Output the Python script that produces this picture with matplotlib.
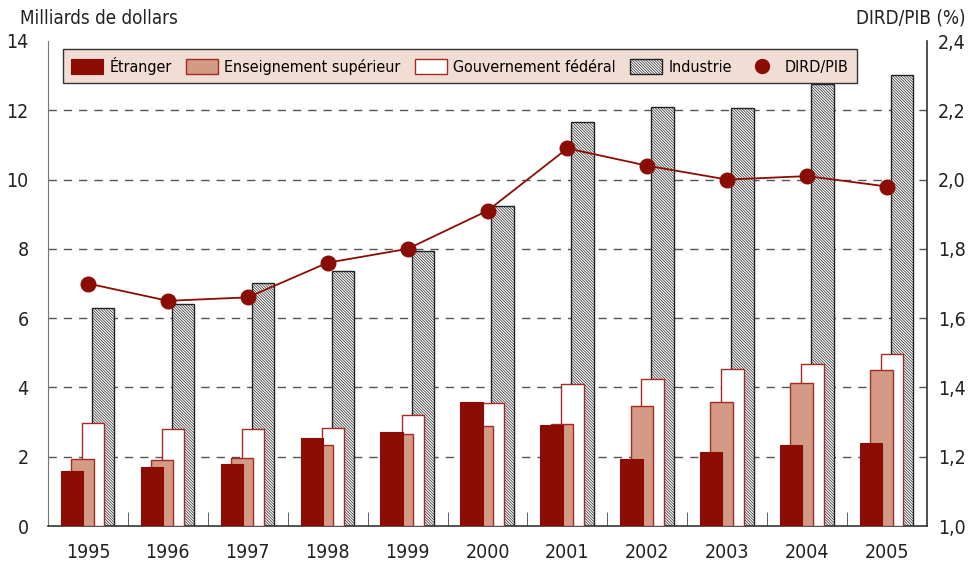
import matplotlib
matplotlib.use("Agg")
import matplotlib.pyplot as plt
from matplotlib.lines import Line2D
import numpy as np

plt.rcParams['font.family'] = ['DejaVu Sans']
plt.rcParams['font.stretch'] = 'condensed'
plt.rcParams['hatch.linewidth'] = 0.5

years = ['1995', '1996', '1997', '1998', '1999', '2000', '2001', '2002', '2003', '2004', '2005']
etranger = [1.60, 1.71, 1.80, 2.55, 2.70, 3.59, 2.92, 1.93, 2.13, 2.34, 2.39]
enseignement = [1.93, 1.90, 1.96, 2.34, 2.65, 2.89, 2.94, 3.46, 3.59, 4.12, 4.49]
gouvernement = [2.98, 2.81, 2.81, 2.82, 3.21, 3.55, 4.09, 4.25, 4.53, 4.67, 4.97]
industrie = [6.28, 6.40, 7.02, 7.35, 7.94, 9.24, 11.65, 12.09, 12.06, 12.75, 13.01]
dird_pib = [1.70, 1.65, 1.66, 1.76, 1.80, 1.91, 2.09, 2.04, 2.00, 2.01, 1.98]

dark = '#8B0C02'
salmon = '#D39A85'
edge_red = '#A42A22'

fig = plt.figure(figsize=(9.72, 5.63), dpi=100)
ax = fig.add_axes([48/972, 1-526/563, (927-48)/972, 485/563])
x = np.arange(len(years))
w = 0.28

b_ind = ax.bar(x + 0.19, industrie, w, color='white', edgecolor='#222222', hatch='\\' * 12,
               linewidth=1.0, zorder=2, label='Industrie')
b_gov = ax.bar(x + 0.065, gouvernement, w, color='white', edgecolor=edge_red, linewidth=1.0,
               zorder=3, label='Gouvernement fédéral')
b_ens = ax.bar(x - 0.07, enseignement, w, color=salmon, edgecolor=edge_red, linewidth=1.0,
               zorder=4, label='Enseignement supérieur')
b_etr = ax.bar(x - 0.20, etranger, w, color=dark, edgecolor=dark, linewidth=0.8,
               zorder=5, label='Étranger')

ax.set_xlim(-0.5, len(years) - 0.5)
ax.set_ylim(0, 14)
ax.set_yticks(np.arange(0, 15, 2))
ax.set_xticks(x)
ax.set_xticklabels(years)
ax.set_xticks(x[:-1] + 0.5, minor=True)
ax.tick_params(axis='x', which='major', length=0, pad=12, labelsize=14, colors='#222222')
ax.tick_params(axis='x', which='minor', length=10, direction='in', color='#444444')
ax.tick_params(axis='y', length=0, pad=14, labelsize=14, colors='#222222')
for yv in range(2, 14, 2):
    ax.axhline(yv, color='#555555', linestyle=(0, (6, 5)), linewidth=1.0, zorder=1)
ax.spines['top'].set_visible(False)
ax.spines['right'].set_visible(False)
ax.spines['left'].set_color('#777777')
ax.spines['bottom'].set_color('#333333')
ax.spines['bottom'].set_linewidth(1.2)

ax2 = ax.twinx()
ax2.plot(x, dird_pib, color=dark, linewidth=1.3, marker='o', markersize=10.5, zorder=10)
ax2.set_ylim(1.0, 2.4)
ax2.set_yticks(np.arange(1.0, 2.41, 0.2))
ax2.set_yticklabels([f'{v:.1f}'.replace('.', ',') for v in np.arange(1.0, 2.41, 0.2)])
ax2.tick_params(axis='y', length=0, pad=8, labelsize=14, colors='#222222')
ax2.spines['top'].set_visible(False)
ax2.spines['left'].set_visible(False)
ax2.spines['bottom'].set_visible(False)
ax2.spines['right'].set_color('#333333')
ax2.spines['right'].set_linewidth(1.2)

fig.text(20/972, 1-18/563, 'Milliards de dollars', fontsize=13.5, color='#222222', va='center')
fig.text(965/972, 1-18/563, 'DIRD/PIB (%)', fontsize=13.5, color='#222222', va='center', ha='right')

dot = Line2D([], [], color=dark, marker='o', markersize=10, linestyle='none')
handles = [b_etr, b_ens, b_gov, b_ind, dot]
labels = ['Étranger', 'Enseignement supérieur', 'Gouvernement fédéral', 'Industrie', 'DIRD/PIB']
leg = ax2.legend(handles, labels, ncol=5, loc='upper left', bbox_to_anchor=(0.008, 1.0),
                 fontsize=11.5, frameon=True, fancybox=False, handlelength=2.0,
                 handleheight=1.0, handletextpad=0.4, columnspacing=0.9, borderpad=0.5)
leg.get_frame().set_facecolor('#F2DDD5')
leg.get_frame().set_edgecolor('#333333')
leg.get_frame().set_alpha(1)
leg.set_zorder(20)

fig.savefig('out.png', dpi=100)
